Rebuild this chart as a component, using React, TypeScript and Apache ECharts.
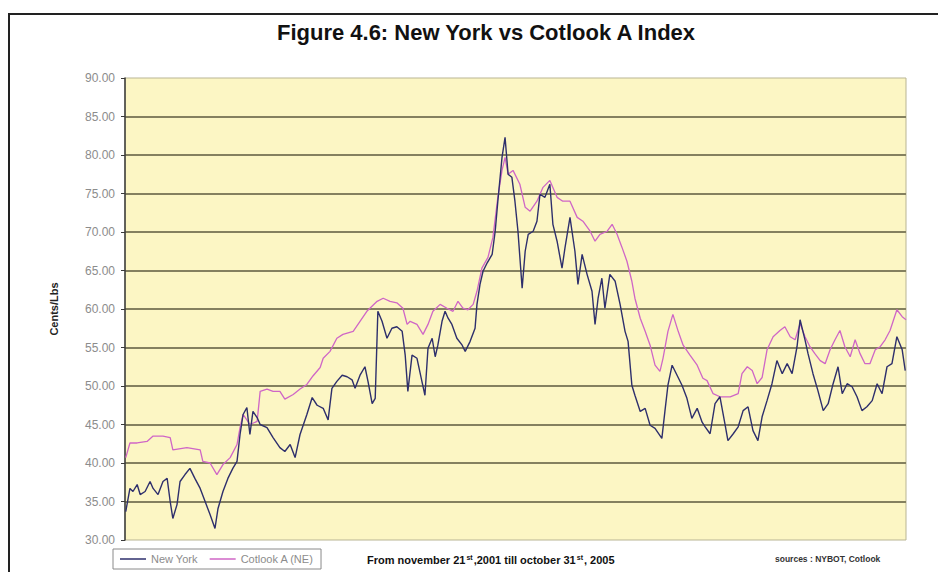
import React, { useEffect, useRef } from "react";
import * as echarts from "echarts";

// x = weeks since November 21st, 2001 ; y = US cents per lb
const weekSpan = 205.7;

const newYork: [number, number][] = [
  [0.2, 33.7], [1.3, 36.7], [2.1, 36.3], [3.2, 37.2], [4.0, 35.9], [5.3, 36.3], [6.6, 37.6], [7.4, 36.7],
  [8.7, 35.9], [10.0, 37.6], [11.1, 38.0], [11.9, 35.0], [12.6, 32.8], [13.7, 34.6], [14.5, 37.6], [15.8, 38.5],
  [17.1, 39.3], [18.4, 38.0], [19.8, 36.7], [21.1, 35.0], [22.4, 33.3], [23.7, 31.5], [24.5, 34.1], [25.8, 36.3],
  [27.1, 38.0], [28.4, 39.3], [29.5, 40.2], [30.3, 43.7], [31.1, 46.3], [32.1, 47.2], [32.9, 43.7], [33.7, 46.7],
  [34.8, 45.9], [35.6, 45.0], [37.4, 44.6], [39.0, 43.3], [40.8, 42.0], [42.1, 41.5], [43.5, 42.4], [44.8, 40.7],
  [46.1, 43.7], [47.9, 46.3], [49.3, 48.5], [50.6, 47.5], [52.2, 47.1], [53.5, 45.6], [54.5, 49.7], [55.8, 50.6],
  [57.2, 51.4], [58.5, 51.2], [59.8, 50.8], [60.6, 49.7], [61.9, 51.4], [63.2, 52.5], [64.0, 50.6], [65.1, 47.7],
  [65.9, 48.4], [66.6, 59.7], [67.7, 58.4], [69.0, 56.2], [70.3, 57.5], [71.6, 57.7], [73.0, 57.1], [73.8, 54.0],
  [74.5, 49.3], [75.6, 54.0], [76.9, 53.6], [78.2, 50.6], [79.0, 48.8], [79.8, 54.9], [80.9, 56.2], [81.7, 53.8],
  [82.4, 55.3], [83.5, 58.4], [84.3, 59.7], [85.1, 58.8], [86.1, 58.0], [87.4, 56.2], [88.8, 55.3], [89.6, 54.5],
  [90.9, 55.8], [92.2, 57.5], [92.7, 60.6], [93.5, 63.2], [94.3, 64.9], [95.4, 66.0], [96.7, 67.1], [97.5, 70.1],
  [98.2, 74.0], [99.3, 79.7], [100.1, 82.3], [100.9, 77.5], [101.9, 77.1], [102.7, 74.0], [103.5, 70.1], [104.6, 62.7],
  [105.4, 67.5], [106.2, 69.7], [107.5, 70.1], [108.5, 71.4], [109.3, 74.9], [110.6, 74.5], [111.9, 76.2], [112.7, 71.0],
  [113.8, 68.8], [115.1, 65.3], [115.9, 68.0], [117.2, 71.9], [118.5, 67.5], [119.3, 63.2], [120.4, 67.1], [121.7, 64.5],
  [123.0, 62.3], [123.8, 58.0], [124.6, 61.4], [125.6, 64.0], [126.4, 60.1], [127.7, 64.5], [129.1, 63.6], [130.4, 60.6],
  [131.7, 57.1], [132.5, 55.8], [133.5, 50.1], [134.3, 48.8], [135.7, 46.7], [137.0, 47.1], [138.3, 44.9], [139.6, 44.5],
  [141.4, 43.2], [142.2, 46.7], [143.0, 50.1], [144.1, 52.7], [145.4, 51.4], [146.7, 50.1], [148.0, 48.4], [149.3, 45.8],
  [150.7, 47.1], [152.0, 45.3], [152.8, 44.7], [154.1, 43.8], [155.4, 47.7], [156.7, 48.6], [158.0, 45.1], [158.8, 42.9],
  [160.2, 43.8], [161.5, 44.7], [162.8, 46.8], [164.1, 47.3], [165.4, 44.2], [166.7, 42.9], [167.8, 46.0], [169.1, 48.1],
  [170.4, 50.3], [171.7, 53.3], [173.1, 51.6], [174.4, 52.9], [175.7, 51.6], [177.0, 55.1], [177.8, 58.6], [179.1, 56.0],
  [179.9, 54.2], [181.2, 51.6], [182.5, 49.4], [183.9, 46.8], [185.2, 47.7], [186.5, 50.3], [187.8, 52.5], [188.9, 49.0],
  [190.2, 50.3], [191.5, 49.9], [192.8, 48.6], [194.1, 46.8], [195.4, 47.3], [196.8, 48.1], [198.1, 50.3], [199.4, 49.0],
  [200.7, 52.5], [202.0, 52.9], [203.3, 56.4], [204.7, 54.7], [205.5, 52.0],
];

const cotlookA: [number, number][] = [
  [0.2, 40.7], [1.3, 42.6], [3.2, 42.6], [5.8, 42.8], [7.4, 43.5], [10.0, 43.5], [11.9, 43.3], [12.6, 41.7],
  [16.3, 42.0], [19.8, 41.7], [20.5, 40.2], [22.4, 40.0], [24.2, 38.5], [25.8, 39.8], [27.7, 40.7], [29.5, 42.4],
  [30.3, 44.6], [31.1, 46.3], [32.9, 45.0], [34.8, 45.4], [35.6, 49.3], [37.4, 49.6], [39.0, 49.3], [40.8, 49.3],
  [42.1, 48.3], [44.3, 48.9], [46.1, 49.6], [47.9, 50.2], [49.5, 51.3], [51.4, 52.4], [52.2, 53.6], [54.0, 54.5],
  [55.8, 56.2], [57.4, 56.7], [60.1, 57.1], [61.9, 58.4], [63.7, 59.7], [66.4, 61.0], [68.0, 61.4], [69.8, 61.0],
  [71.6, 60.8], [73.2, 60.1], [74.3, 58.0], [75.1, 58.4], [76.9, 58.0], [78.5, 56.7], [79.8, 58.0], [81.1, 59.7],
  [83.0, 60.6], [84.8, 60.1], [86.4, 59.7], [87.7, 61.0], [89.0, 60.1], [90.3, 59.9], [91.7, 60.6], [92.7, 62.3],
  [94.0, 65.3], [95.6, 66.7], [96.9, 69.3], [98.2, 74.5], [99.3, 78.0], [100.1, 79.7], [100.9, 77.5], [102.2, 78.0],
  [104.0, 76.2], [105.4, 73.2], [106.7, 72.7], [108.5, 74.0], [110.1, 75.8], [111.9, 76.7], [113.8, 74.5], [115.3, 74.0],
  [117.2, 74.0], [119.1, 71.9], [120.6, 71.4], [122.5, 70.1], [123.8, 68.8], [125.1, 69.7], [127.0, 70.1], [128.3, 71.0],
  [129.6, 69.7], [130.9, 68.0], [132.2, 66.2], [133.5, 63.6], [134.3, 61.4], [135.7, 58.8], [137.0, 57.1], [138.3, 55.3],
  [139.6, 52.7], [140.9, 51.9], [141.7, 53.6], [143.0, 57.1], [144.3, 59.3], [145.7, 57.1], [147.0, 55.3], [148.8, 54.0],
  [150.7, 52.7], [152.2, 51.0], [153.3, 50.7], [154.9, 49.0], [156.7, 48.6], [159.4, 48.6], [161.5, 49.0], [162.5, 51.6],
  [163.9, 52.5], [165.2, 52.0], [166.5, 50.3], [167.8, 51.1], [169.1, 54.7], [170.7, 56.4], [172.5, 57.2], [173.8, 57.7],
  [175.2, 56.4], [176.5, 56.0], [177.8, 58.1], [179.1, 56.4], [180.4, 55.1], [181.7, 54.2], [183.1, 53.3], [184.4, 52.9],
  [185.7, 54.7], [187.0, 56.0], [188.3, 57.2], [189.6, 55.1], [191.0, 53.8], [192.3, 56.0], [193.6, 54.2], [194.9, 52.9],
  [196.2, 52.9], [197.6, 54.7], [198.9, 55.1], [200.2, 56.0], [201.5, 57.2], [203.3, 59.9], [204.7, 59.0], [205.7, 58.6],
];

const seriesNames = ["New York", "Cotlook A (NE)"];
const yMin = 30;
const yMax = 90;
const yStep = 5;
const titleText = "Figure 4.6: New York vs Cotlook A Index";
const yAxisTitle = "Cents/Lbs";
const periodText = "{b|From november 21}{s|st}{b|,2001 till october 31}{s|st}{b|, 2005}";
const sourcesText = "sources : NYBOT, Cotlook";

const FONT = "'Liberation Sans', Arial, sans-serif";

export default function App() {
  const ref = useRef<HTMLDivElement>(null);
  useEffect(() => {
    if (!ref.current) return;
    const chart = echarts.init(ref.current, undefined, { renderer: "svg" });
    chart.setOption({
      animation: false,
      backgroundColor: "#ffffff",
      textStyle: { fontFamily: FONT },
      grid: {
        left: 125,
        right: 32,
        top: 78,
        bottom: 32,
        show: true,
        backgroundColor: "#fcf6c4",
        borderColor: "#b9b594",
        borderWidth: 1,
      },
      legend: {
        data: seriesNames,
        left: 113,
        top: 549,
        orient: "horizontal",
        icon: "rect",
        padding: [4, 7],
        itemGap: 12,
        itemWidth: 26,
        itemHeight: 1.5,
        borderColor: "#8a8a8a",
        borderWidth: 1,
        backgroundColor: "#ffffff",
        textStyle: { color: "#8c8c8c", fontSize: 11, fontFamily: FONT, lineHeight: 12 },
      },
      xAxis: {
        type: "value",
        min: 0,
        max: weekSpan,
        show: false,
        splitLine: { show: false },
      },
      yAxis: {
        type: "value",
        min: yMin,
        max: yMax,
        interval: yStep,
        name: yAxisTitle,
        nameLocation: "middle",
        nameGap: 66,
        nameRotate: 90,
        nameTextStyle: { fontSize: 11, fontWeight: "bold", color: "#222", fontFamily: FONT },
        axisLine: { show: true, lineStyle: { color: "#3a3a3a", width: 1.5 } },
        axisTick: { show: true, inside: false, length: 4, lineStyle: { color: "#3a3a3a" } },
        axisLabel: {
          formatter: (v: number) => v.toFixed(2),
          color: "#8c8c8c",
          fontSize: 12,
          margin: 10,
          fontFamily: FONT,
        },
        splitLine: {
          show: true,
          showMinLine: false,
          showMaxLine: false,
          lineStyle: { color: "#84805f", width: 2 },
        },
      },
      series: [
        {
          name: seriesNames[0],
          type: "line",
          data: newYork,
          symbol: "none",
          showSymbol: false,
          z: 3,
          lineStyle: { color: "#2e2f6c", width: 1.4 },
          itemStyle: { color: "#2e2f6c" },
        },
        {
          name: seriesNames[1],
          type: "line",
          data: cotlookA,
          symbol: "none",
          showSymbol: false,
          z: 2,
          lineStyle: { color: "#cf66c6", width: 1.3 },
          itemStyle: { color: "#cf66c6" },
        },
      ],
      graphic: [
        {
          type: "rect",
          shape: { x: 9, y: 14, width: 940, height: 570 },
          style: { fill: "none", stroke: "#222", lineWidth: 2 },
          silent: true,
        },
        {
          type: "text",
          x: 486,
          y: 32,
          style: {
            text: titleText,
            fontSize: 22,
            fontWeight: "bold",
            fontFamily: FONT,
            fill: "#111",
            align: "center",
            verticalAlign: "middle",
          },
        },
        {
          type: "text",
          x: 367,
          y: 560,
          style: {
            text: periodText,
            align: "left",
            verticalAlign: "middle",
            rich: {
              b: { fontSize: 11, fontWeight: "bold", fontFamily: FONT, fill: "#111" },
              s: { fontSize: 7, fontWeight: "bold", fontFamily: FONT, fill: "#111", verticalAlign: "top", padding: [0, 1, 6, 1] },
            },
          },
        },
        {
          type: "text",
          x: 775,
          y: 559,
          style: {
            text: sourcesText,
            fontSize: 8.5,
            fontWeight: "bold",
            fontFamily: FONT,
            fill: "#333",
            align: "left",
            verticalAlign: "middle",
          },
        },
      ],
    });
    return () => chart.dispose();
  }, []);
  return (
    <div
      ref={ref}
      style={{ position: "absolute", left: 0, top: 0, width: 938, height: 572 }}
    />
  );
}
